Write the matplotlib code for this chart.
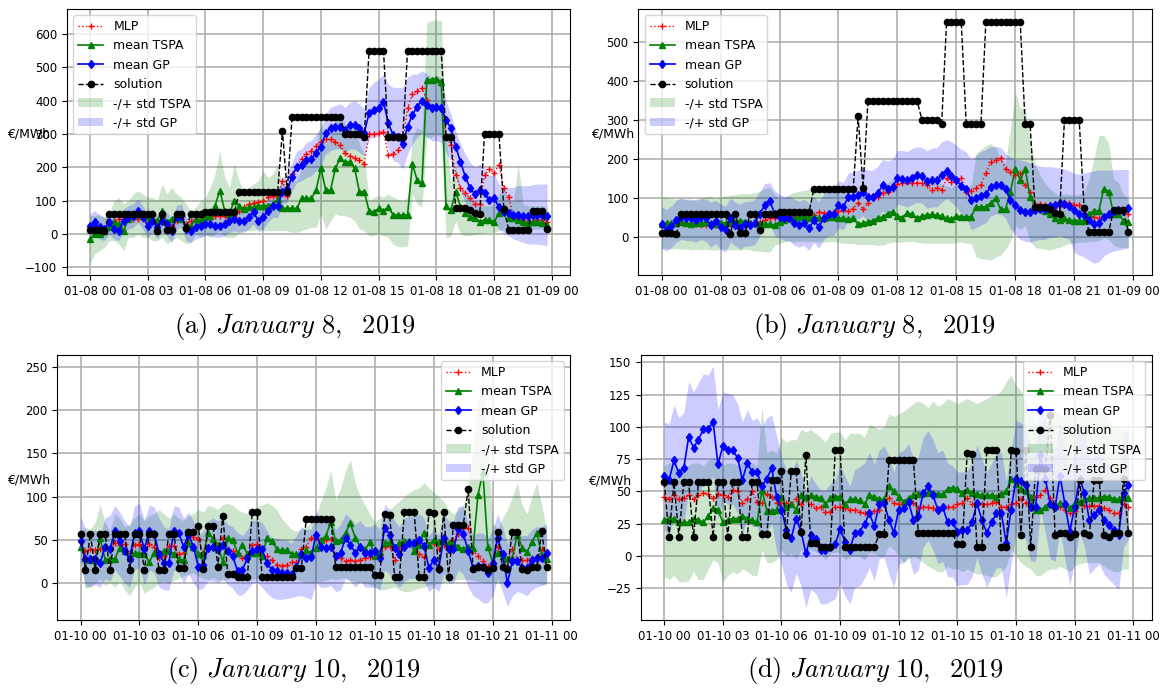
import numpy as np
import matplotlib
matplotlib.use("Agg")
import matplotlib.pyplot as plt
import matplotlib.dates as mdates

plt.rcParams['font.size'] = 8.5
plt.rcParams['mathtext.fontset'] = 'cm'

# ---------------- data (15 min steps, 96 per day) ----------------
solution_jan8 = [12, 12, 12, 8, 60, 60, 60, 60, 60, 60,
                 60, 60, 60, 60, 10, 60, 12, 12, 60, 60,
                 18, 60, 60, 60, 65, 65, 65, 65, 65, 65,
                 65, 125, 125, 125, 125, 125, 125, 125, 125, 125,
                 310, 127, 350, 350, 350, 350, 350, 350, 350, 350,
                 350, 350, 350, 300, 300, 300, 300, 290, 550, 550,
                 550, 550, 290, 290, 290, 290, 550, 550, 550, 550,
                 550, 550, 550, 550, 290, 290, 77, 77, 77, 72,
                 62, 60, 300, 300, 300, 300, 75, 13, 13, 13,
                 13, 13, 70, 70, 70, 15]

solution_jan10 = [57, 15, 57, 15, 57, 57, 15, 57, 57, 57,
                  15, 57, 57, 15, 57, 57, 15, 15, 57, 57,
                  17, 17, 59, 59, 66, 16, 66, 66, 19, 78,
                  10, 10, 7, 7, 7, 82, 82, 7, 7, 7,
                  7, 7, 7, 7, 17, 17, 74, 74, 74, 74,
                  74, 74, 18, 18, 18, 18, 18, 18, 18, 18,
                  9, 9, 80, 79, 7, 7, 82, 82, 82, 7,
                  7, 82, 81, 16, 82, 7, 67, 67, 67, 109,
                  16, 18, 18, 15, 17, 59, 18, 16, 59, 59,
                  16, 15, 18, 18, 60, 18]

# panel (a)
mlp_a = [22, 25, 18, 15, 30, 40, 45, 50, 45, 45,
         45, 45, 42, 40, 30, 35, 30, 25, 40, 45,
         30, 40, 45, 50, 52, 55, 55, 55, 53, 52,
         55, 70, 80, 90, 92, 95, 100, 110, 115, 110,
         160, 115, 180, 205, 225, 240, 250, 265, 277, 284,
         284, 277, 267, 242, 234, 227, 222, 210, 299, 300,
         302, 307, 237, 240, 252, 272, 377, 419, 430, 437,
         402, 382, 377, 377, 292, 267, 177, 137, 122, 107,
         90, 90, 177, 194, 184, 207, 137, 112, 52, 47,
         42, 37, 52, 42, 42, 37]
tspa_a = [-15, 0, 0, 10, 20, 35, 30, 10, 45, 55,
          60, 55, 50, 45, 40, 70, 35, 45, 55, 45,
          20, 25, 45, 40, 50, 55, 85, 130, 70, 60,
          100, 85, 75, 80, 80, 85, 85, 85, 90, 105,
          77, 77, 77, 77, 107, 107, 107, 132, 197, 132,
          132, 197, 227, 217, 217, 197, 127, 127, 70, 66,
          77, 70, 80, 57, 57, 57, 57, 210, 162, 152,
          462, 462, 466, 457, 84, 72, 127, 82, 62, 52,
          47, 37, 42, 42, 37, 62, 77, 47, 47, 42,
          37, 32, 37, 37, 32, 27]
gp_a = [25, 35, 20, 15, 35, 15, 10, 40, 50, 55,
        70, 50, 25, 40, 20, 40, 30, 10, 50, 55,
        15, 10, 20, 25, 30, 30, 25, 25, 30, 40,
        45, 40, 40, 50, 65, 40, 50, 70, 85, 85,
        127, 134, 172, 202, 207, 222, 224, 244, 262, 302,
        317, 322, 322, 312, 327, 327, 317, 304, 362, 372,
        379, 397, 332, 297, 292, 270, 322, 357, 382, 400,
        387, 377, 380, 377, 342, 317, 262, 217, 172, 137,
        120, 132, 122, 102, 107, 80, 67, 62, 57, 57,
        54, 54, 57, 57, 57, 54]
tspa_lo_a = [-90, -60, -50, -40, -20, -20, -30, -50, -10, -10,
             0, -10, -10, -20, -20, -10, -30, -20, -10, -20,
             -30, -25, 0, -10, 0, -10, 0, 10, -10, -10,
             -10, 5, 10, 10, 10, 15, 10, 10, 10, 10,
             10, 10, 5, 5, 10, 15, 20, 20, 60, 15,
             40, 60, 55, 55, 50, 40, 15, 10, -5, -5,
             0, -5, -10, -30, -38, -38, -35, 120, 90, 80,
             290, 290, 300, 290, -13, -5, 40, 0, -5, -5,
             0, 0, 5, 5, 5, 10, 15, 10, 10, 15,
             10, 15, 15, 15, 17, 17]
tspa_hi_a = [55, 55, 60, 50, 60, 100, 110, 90, 100, 120,
             130, 120, 110, 110, 100, 150, 120, 140, 120, 110,
             90, 70, 80, 100, 110, 140, 180, 250, 170, 140,
             210, 160, 130, 140, 150, 160, 190, 170, 180, 210,
             150, 150, 160, 160, 200, 210, 220, 250, 350, 270,
             300, 340, 360, 330, 320, 320, 270, 240, 100, 110,
             115, 110, 120, 110, 105, 100, 110, 290, 320, 310,
             635, 640, 642, 640, 300, 160, 200, 140, 130, 110,
             100, 90, 85, 85, 90, 120, 140, 100, 100, 212,
             90, 85, 85, 85, 85, 80]
gp_lo_a = [-10, 0, -15, -20, 0, -15, -20, 5, 15, 20,
           35, 15, -10, 5, -15, 5, -5, -25, 15, 20,
           -20, -25, -15, -10, -5, -5, -10, -10, -5, 5,
           10, 5, 5, 15, 30, 5, 15, 35, 50, 50,
           90, 95, 130, 155, 160, 170, 175, 190, 205, 240,
           250, 255, 255, 245, 255, 255, 245, 235, 285, 290,
           295, 310, 255, 220, 215, 195, 240, 270, 290, 305,
           290, 280, 280, 275, 245, 220, 170, 130, 95, 65,
           50, 60, 50, 35, 35, 15, 0, -5, -15, -20,
           -25, -30, -30, -30, -33, -35]
gp_hi_a = [60, 70, 55, 50, 70, 50, 45, 75, 85, 90,
           105, 85, 60, 75, 55, 75, 65, 45, 85, 90,
           50, 45, 55, 60, 65, 65, 60, 60, 65, 75,
           80, 75, 75, 85, 100, 80, 90, 105, 125, 125,
           170, 180, 215, 250, 255, 275, 280, 300, 320, 360,
           380, 385, 390, 380, 395, 400, 390, 375, 440, 455,
           465, 480, 450, 440, 440, 440, 470, 480, 480, 490,
           480, 470, 475, 470, 400, 360, 310, 270, 240, 215,
           200, 210, 200, 175, 180, 150, 140, 140, 140, 145,
           145, 145, 148, 150, 150, 150]

# panel (b)
mlp_b = [31, 27, 29, 34, 40, 37, 37, 35, 33, 33,
         33, 33, 33, 33, 35, 37, 37, 37, 37, 38,
         40, 44, 49, 51, 53, 51, 53, 55, 53, 53,
         57, 57, 66, 63, 63, 66, 68, 70, 68, 74,
         89, 72, 89, 104, 103, 114, 117, 125, 136, 140,
         142, 140, 140, 138, 134, 121, 127, 121, 151, 142,
         147, 152, 117, 119, 127, 135, 165, 192, 198, 204,
         176, 168, 159, 164, 134, 117, 85, 85, 83, 81,
         81, 80, 91, 89, 84, 84, 74, 55, 53, 49,
         51, 57, 66, 59, 72, 61]
tspa_b = [34, 37, 36, 37, 40, 37, 34, 37, 37, 40,
          37, 34, 37, 37, 40, 40, 43, 40, 37, 37,
          34, 34, 34, 31, 40, 44, 49, 49, 53, 53,
          51, 53, 49, 51, 53, 53, 49, 49, 46, 49,
          34, 37, 40, 43, 49, 53, 61, 66, 55, 51,
          63, 59, 49, 55, 57, 59, 57, 55, 49, 47,
          55, 53, 53, 53, 78, 78, 78, 89, 100, 72,
          72, 117, 176, 147, 176, 104, 80, 78, 68, 61,
          49, 44, 49, 44, 43, 43, 43, 61, 68, 68,
          125, 117, 61, 61, 43, 40]
gp_b = [34, 19, 29, 44, 53, 49, 49, 44, 53, 49,
        31, 43, 27, 20, 49, 33, 25, 34, 33, 37,
        61, 83, 94, 61, 53, 49, 49, 37, 31, 36,
        23, 44, 27, 49, 61, 61, 83, 78, 104, 104,
        108, 117, 104, 104, 114, 134, 125, 129, 152, 150,
        147, 153, 159, 157, 144, 147, 147, 159, 170, 158,
        147, 132, 123, 95, 100, 106, 112, 129, 134, 134,
        124, 97, 83, 70, 66, 64, 70, 74, 74, 81,
        83, 89, 85, 81, 70, 60, 57, 44, 34, 37,
        53, 61, 68, 70, 68, 76]
tspa_lo_b = [-28, -28, -30, -28, -30, -30, -32, -30, -32, -30,
             -32, -32, -30, -30, -32, -32, -32, -30, -32, -35,
             -35, -37, -37, -20, -15, -12, -10, -12, -10, -10,
             -11, -10, -12, -12, -11, -10, -12, -15, -15, -15,
             -18, -18, -18, -18, -20, -20, -15, -12, -12, -12,
             -10, -10, -12, -14, -15, -15, -15, -15, -15, -15,
             -12, -12, -15, -15, -50, -54, -55, -58, -50, -45,
             -30, -10, 30, 20, 30, -10, -25, -28, -30, -32,
             -28, -25, -20, -15, -15, -12, -12, -10, -10, -8,
             0, -5, -20, -25, -25, -28]
tspa_hi_b = [104, 102, 100, 98, 100, 96, 95, 98, 100, 104,
             104, 100, 104, 106, 108, 110, 112, 112, 112, 115,
             118, 125, 128, 110, 100, 100, 110, 115, 118, 120,
             123, 123, 123, 120, 118, 120, 118, 118, 115, 112,
             100, 100, 105, 110, 120, 128, 140, 150, 140, 135,
             145, 140, 132, 138, 140, 142, 140, 138, 132, 128,
             135, 132, 132, 132, 215, 225, 235, 240, 230, 200,
             190, 280, 372, 330, 330, 250, 190, 160, 140, 125,
             115, 105, 112, 110, 108, 110, 115, 150, 200, 261,
             261, 240, 150, 140, 110, 100]
gp_lo_b = [-28, -35, -25, -12, -5, -8, -8, -12, -5, -10,
           -25, -15, -30, -38, -10, -22, -30, -22, -22, -18,
           5, 25, 35, 5, -2, -8, -8, -20, -25, -20,
           -33, -12, -28, -5, 5, 5, 25, 20, 45, 45,
           48, 55, 42, 40, 50, 68, 58, 62, 85, 82,
           78, 84, 90, 88, 75, 78, 78, 90, 100, 90,
           78, 60, 50, 20, 25, 32, 38, 55, 60, 60,
           50, 22, 8, -5, -10, -12, -8, -5, -5, 0,
           0, 5, 0, -5, -38, -45, -50, -58, -66, -62,
           -48, -40, -35, -32, -30, -26]
gp_hi_b = [78, 72, 80, 95, 100, 98, 98, 95, 100, 98,
           90, 95, 85, 80, 100, 90, 85, 92, 92, 98,
           118, 138, 140, 120, 110, 105, 105, 98, 92, 98,
           88, 105, 92, 110, 122, 125, 145, 140, 165, 168,
           172, 180, 172, 172, 182, 200, 195, 200, 223, 222,
           220, 228, 232, 230, 222, 228, 230, 244, 250, 245,
           235, 225, 219, 200, 210, 220, 225, 232, 232, 230,
           215, 206, 200, 198, 195, 190, 185, 183, 181, 181,
           180, 178, 175, 170, 164, 162, 165, 168, 170, 172,
           172, 172, 173, 174, 174, 174]

# panel (c)
mlp_c = [49, 37, 39, 38, 39, 40, 39, 46, 44, 45,
         35, 44, 45, 42, 45, 42, 29, 31, 43, 43,
         33, 35, 46, 53, 51, 35, 42, 43, 44, 52,
         39, 37, 35, 29, 31, 44, 45, 31, 31, 26,
         21, 20, 21, 24, 24, 39, 42, 52, 52, 49,
         50, 51, 31, 29, 25, 27, 25, 27, 29, 30,
         31, 37, 42, 43, 27, 41, 44, 46, 47, 33,
         30, 44, 46, 39, 44, 42, 50, 57, 64, 64,
         37, 31, 25, 20, 21, 42, 28, 25, 39, 28,
         26, 26, 29, 27, 39, 32]
tspa_c = [42, 29, 27, 26, 52, 27, 28, 28, 41, 37,
          29, 35, 34, 34, 24, 35, 35, 37, 37, 34,
          28, 26, 46, 42, 33, 32, 58, 51, 44, 24,
          52, 50, 35, 44, 34, 35, 35, 31, 52, 49,
          39, 38, 38, 34, 33, 32, 38, 35, 41, 50,
          54, 71, 48, 50, 58, 69, 52, 42, 39, 47,
          31, 36, 46, 47, 42, 46, 48, 48, 37, 44,
          58, 44, 50, 47, 48, 46, 46, 42, 39, 42,
          40, 102, 128, 42, 24, 35, 31, 28, 29, 56,
          41, 36, 47, 58, 32, 28]
gp_c = [48, 28, 28, 28, 23, 42, 39, 60, 48, 37,
        28, 58, 60, 39, 60, 57, 34, 23, 23, 60,
        58, 42, 56, 42, 19, 21, 41, 42, 39, 44,
        37, 31, 14, 15, 29, 37, 39, 39, 23, 15,
        14, 12, 12, 10, 18, 33, 29, 30, 56, 42,
        41, 42, 31, 35, 52, 44, 35, 42, 35, 35,
        37, 29, 64, 56, 41, 33, 42, 46, 46, 50,
        43, 17, 27, 16, 52, 39, 39, 62, 57, 37,
        17, 20, 19, 11, 23, 52, 33, 0, 25, 25,
        17, 17, 27, 29, 29, 35]
tspa_lo_c = [23, -6, -5, 0, 5, -3, 0, -5, 2, -8,
             -15, -5, 0, -12, -8, -5, 0, 2, 0, 3,
             5, 8, 10, 12, 8, 5, 4, 6, 3, 2,
             4, 6, 5, 8, 5, 4, 6, 8, 10, 12,
             12, 10, 8, 6, 4, 2, 0, 0, 0, 2,
             3, 5, 4, 5, 6, 3, 2, 0, 0, -2,
             -5, -8, -8, -6, -5, -8, -10, -10, -8, -6,
             -5, -3, -2, 0, 0, 2, 3, 4, 4, 4,
             3, 2, 0, 0, 0, 0, 0, 0, 0, 0,
             0, 0, 0, 0, -2, -2]
tspa_hi_c = [60, 65, 62, 70, 91, 70, 60, 80, 75, 65,
             68, 75, 80, 72, 78, 80, 85, 80, 75, 80,
             75, 72, 78, 80, 85, 82, 90, 88, 85, 91,
             92, 90, 85, 82, 80, 85, 88, 90, 93, 90,
             85, 75, 68, 62, 60, 62, 65, 70, 77, 95,
             110, 131, 96, 110, 130, 143, 115, 100, 90, 80,
             70, 75, 80, 85, 90, 95, 100, 105, 108, 110,
             116, 110, 105, 100, 95, 85, 80, 85, 90, 110,
             160, 210, 241, 160, 70, 62, 75, 85, 100, 116,
             90, 80, 100, 116, 90, 62]
gp_lo_c = [27, -4, -4, -2, -5, 5, 2, 15, 8, 0,
           -5, 15, 18, -2, 15, 12, -5, -8, -8, 15,
           12, 0, 10, 0, -8, -6, 2, 2, 0, 5,
           -2, -6, -14, -14, -8, 0, 0, -5, -12, -17,
           -19, -19, -18, -17, -15, -15, -17, -19, 0, -5,
           -5, -3, -10, -8, 5, 2, -5, 2, -5, -5,
           -5, -8, 15, 10, 0, -5, 2, 5, 5, 8,
           2, -10, -5, -10, 10, 0, 0, 15, 10, -5,
           -15, -18, -23, -23, -15, 5, -10, -27, -15, -10,
           -12, -15, -8, -5, -3, 0]
gp_hi_c = [77, 62, 58, 62, 55, 75, 78, 90, 82, 72,
           65, 89, 92, 73, 90, 88, 75, 65, 62, 89,
           88, 75, 82, 72, 55, 60, 72, 75, 72, 75,
           68, 65, 58, 55, 62, 73, 72, 70, 60, 52,
           52, 50, 50, 46, 55, 65, 62, 62, 85, 72,
           72, 72, 62, 68, 80, 75, 68, 72, 65, 65,
           68, 62, 91, 85, 72, 65, 75, 77, 77, 80,
           75, 55, 62, 55, 80, 72, 72, 89, 89, 70,
           55, 58, 58, 52, 62, 80, 65, 45, 60, 60,
           55, 55, 62, 65, 65, 68]

# panel (d)
mlp_d = [46, 44, 47, 44, 45, 47, 44, 47, 49, 48,
         45, 48, 47, 46, 51, 50, 41, 44, 50, 42,
         41, 48, 46, 41, 41, 41, 40, 44, 40, 44,
         40, 37, 38, 34, 34, 38, 38, 37, 36, 36,
         34, 33, 33, 35, 36, 41, 45, 41, 40, 42,
         42, 41, 37, 38, 38, 37, 36, 38, 38, 38,
         40, 41, 45, 40, 40, 40, 40, 41, 42, 38,
         38, 40, 41, 44, 41, 44, 46, 47, 51, 45,
         40, 38, 36, 33, 35, 41, 39, 39, 39, 39,
         37, 36, 33, 33, 40, 38]
tspa_d = [28, 29, 29, 26, 26, 26, 29, 28, 26, 31,
          37, 36, 26, 28, 29, 29, 31, 29, 28, 26,
          51, 35, 35, 36, 46, 38, 40, 36, 47, 46,
          47, 46, 45, 40, 45, 46, 46, 40, 44, 44,
          43, 40, 47, 46, 44, 44, 54, 50, 46, 42,
          45, 47, 48, 49, 49, 49, 48, 48, 52, 53,
          52, 49, 51, 49, 48, 47, 47, 47, 46, 48,
          50, 60, 56, 52, 50, 46, 36, 36, 38, 40,
          39, 41, 40, 37, 41, 42, 44, 45, 45, 45,
          46, 46, 44, 44, 46, 45]
gp_d = [62, 59, 74, 64, 68, 92, 84, 90, 98, 98,
        104, 71, 85, 82, 82, 76, 59, 72, 65, 65,
        54, 60, 68, 46, 36, 20, 14, 29, 19, 2,
        16, 13, 5, 5, 7, 9, 21, 11, 5, 18,
        19, 25, 33, 23, 40, 41, 28, 18, 36, 37,
        42, 28, 31, 49, 54, 47, 36, 38, 26, 26,
        19, 20, 20, 26, 41, 28, 18, 26, 33, 33,
        10, 36, 60, 58, 55, 38, 38, 78, 60, 40,
        38, 62, 40, 19, 38, 60, 49, 28, 32, 36,
        28, 24, 20, 16, 49, 55]
tspa_lo_d = [-16, -18, -15, -20, -20, -19, -12, -18, -18, -10,
             -3, -5, -20, -15, -12, -14, -10, -12, -15, -15,
             5, -5, -5, -3, 5, 0, 2, -2, 5, 3,
             5, 3, 2, -3, 2, 3, 3, -3, 0, 0,
             0, -3, 3, 2, 0, 0, 8, 5, 0, -5,
             -2, 0, -2, -5, -8, -10, -12, -12, -8, -10,
             -10, -12, -10, -12, -14, -14, -15, -16, -16, -12,
             -8, 5, 0, -5, -8, -10, -15, -15, -12, -10,
             -10, -8, -10, -12, -8, -6, -5, -5, -5, -5,
             -8, -10, -12, -12, -10, -10]
tspa_hi_d = [70, 72, 72, 68, 70, 70, 72, 72, 70, 74,
             76, 75, 70, 72, 72, 70, 74, 72, 72, 70,
             116, 80, 82, 80, 92, 88, 90, 90, 98, 96,
             98, 95, 92, 88, 95, 96, 96, 90, 95, 95,
             95, 92, 102, 100, 98, 100, 110, 108, 110, 112,
             115, 118, 120, 118, 115, 120, 116, 118, 122, 120,
             118, 120, 122, 120, 118, 120, 122, 124, 125, 128,
             135, 140, 132, 128, 120, 112, 100, 102, 110, 115,
             112, 110, 108, 110, 112, 115, 118, 118, 115, 112,
             110, 106, 100, 100, 98, 95]
gp_lo_d = [20, 17, 32, 22, 26, 50, 42, 48, 56, 56,
           62, 29, 43, 40, 40, 34, 17, 30, 23, 23,
           12, 18, 26, 4, -6, -22, -28, -13, -23, -40,
           -26, -29, -37, -37, -35, -33, -21, -31, -37, -24,
           -23, -17, -9, -19, -2, -1, -14, -24, -6, -5,
           0, -14, -11, 7, 12, 5, -6, -4, -16, -16,
           -23, -22, -22, -16, -1, -14, -24, -16, -9, -9,
           -32, -6, 18, 16, 13, -4, -4, 36, 18, -2,
           -4, 20, -2, -23, -4, 18, 7, -14, -10, -6,
           -14, -18, -22, -26, 7, 13]
gp_hi_d = [104, 102, 117, 107, 111, 135, 127, 134, 141, 140,
           147, 113, 127, 126, 125, 118, 104, 113, 105, 107,
           100, 107, 109, 93, 77, 67, 64, 74, 64, 51,
           62, 56, 51, 51, 56, 59, 71, 62, 54, 67,
           69, 72, 80, 71, 82, 85, 77, 65, 80, 82,
           87, 75, 77, 92, 97, 90, 80, 82, 72, 70,
           65, 65, 66, 72, 86, 75, 65, 72, 80, 80,
           58, 82, 105, 103, 100, 85, 85, 120, 105, 85,
           83, 105, 85, 65, 85, 105, 95, 75, 78, 80,
           75, 70, 66, 62, 95, 100]

hours = np.arange(96) * np.timedelta64(15, 'm')
t_jan8 = np.datetime64('2019-01-08T00:00') + hours
t_jan10 = np.datetime64('2019-01-10T00:00') + hours

panels = [
    dict(t=t_jan8, sol=solution_jan8, mlp=mlp_a, tspa=tspa_a, gp=gp_a,
         tlo=tspa_lo_a, thi=tspa_hi_a, glo=gp_lo_a, ghi=gp_hi_a,
         rect=[0.0574, 0.602, 0.4306, 0.385], ylim=(-123, 675), yt=range(-100, 601, 100),
         leg='upper left', lab=(-0.0755, 0.53), cap=(0.2526, 0.527, '(a)', '8')),
    dict(t=t_jan8, sol=solution_jan8, mlp=mlp_b, tspa=tspa_b, gp=gp_b,
         tlo=tspa_lo_b, thi=tspa_hi_b, glo=gp_lo_b, ghi=gp_hi_b,
         rect=[0.5465, 0.602, 0.4395, 0.385], ylim=(-96, 584), yt=range(0, 501, 100),
         leg='upper left', lab=(-0.051, 0.53), cap=(0.749, 0.527, '(b)', '8')),
    dict(t=t_jan10, sol=solution_jan10, mlp=mlp_c, tspa=tspa_c, gp=gp_c,
         tlo=tspa_lo_c, thi=tspa_hi_c, glo=gp_lo_c, ghi=gp_hi_c,
         rect=[0.049, 0.1027, 0.439, 0.3836], ylim=(-43, 264), yt=range(0, 251, 50),
         leg='upper right', lab=(-0.055, 0.528), cap=(0.2517, 0.030, '(c)', '10')),
    dict(t=t_jan10, sol=solution_jan10, mlp=mlp_d, tspa=tspa_d, gp=gp_d,
         tlo=tspa_lo_d, thi=tspa_hi_d, glo=gp_lo_d, ghi=gp_hi_d,
         rect=[0.5488, 0.1027, 0.4372, 0.3836], ylim=(-49.5, 155.6), yt=range(-25, 151, 25),
         leg='upper right', lab=(-0.061, 0.525), cap=(0.749, 0.030, '(d)', '10')),
]

fig = plt.figure(figsize=(11.68, 6.91), dpi=100)

for p in panels:
    ax = fig.add_axes(p['rect'])
    t = p['t']
    ax.plot(t, p['mlp'], ':', color='red', marker='+', markersize=4.5, linewidth=1, label='MLP')
    ax.plot(t, p['tspa'], '-', color='green', marker='^', markersize=4.5, linewidth=1.2, label='mean TSPA')
    ax.plot(t, p['gp'], '-', color='blue', marker='d', markersize=4.5, linewidth=1.2, label='mean GP')
    ax.plot(t, p['sol'], '--', color='black', marker='o', markersize=4.5, linewidth=1, label='solution')
    ax.fill_between(t, p['tlo'], p['thi'], color='green', alpha=0.2, linewidth=0, label='-/+ std TSPA')
    ax.fill_between(t, p['glo'], p['ghi'], color='blue', alpha=0.2, linewidth=0, label='-/+ std GP')

    ax.xaxis.set_major_locator(mdates.HourLocator(byhour=range(0, 24, 3)))
    ax.xaxis.set_major_formatter(mdates.DateFormatter('%m-%d %H'))
    ax.set_ylim(*p['ylim'])
    ax.set_yticks(list(p['yt']))
    ax.grid(True, color='#b0b0b0', linewidth=1.2)
    ax.set_axisbelow(True)
    ax.tick_params(labelsize=8.5)
    ax.set_ylabel('€/MWh', rotation=0, fontsize=9, ha='center', va='center')
    ax.yaxis.set_label_coords(*p['lab'])
    ax.legend(loc=p['leg'], fontsize=9)

    cx, cy, tag, day = p['cap']
    fig.text(cx, cy, r'$\mathrm{%s}\ January\ %s,\ \ 2019$' % (tag, day),
             fontsize=19, ha='center', va='center')

fig.savefig('out.png', dpi=100)
